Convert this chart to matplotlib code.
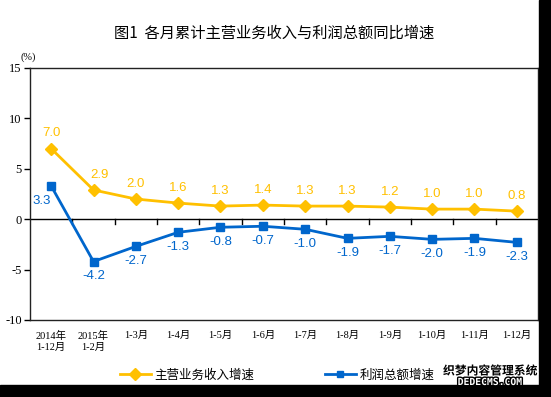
import matplotlib
matplotlib.use("Agg")
import matplotlib.pyplot as plt
from matplotlib.lines import Line2D
from matplotlib.patches import Rectangle
import matplotlib.patheffects as pe

plt.rcParams['font.family'] = ['Noto Sans CJK SC', 'DejaVu Sans']

categories = ["2014年\n1-12月", "2015年\n1-2月", "1-3月", "1-4月", "1-5月", "1-6月",
              "1-7月", "1-8月", "1-9月", "1-10月", "1-11月", "1-12月"]
revenue = [7.0, 2.9, 2.0, 1.6, 1.3, 1.4, 1.3, 1.3, 1.2, 1.0, 1.0, 0.8]
profit = [3.3, -4.2, -2.7, -1.3, -0.8, -0.7, -1.0, -1.9, -1.7, -2.0, -1.9, -2.3]
yticks = [15, 10, 5, 0, -5, -10]
title = "图1  各月累计主营业务收入与利润总额同比增速"
name_rev = "主营业务收入增速"
name_pro = "利润总额增速"

GOLD = "#FFC000"
BLUE = "#0066CC"

W, H = 551, 397
fig = plt.figure(figsize=(W / 100, H / 100), dpi=100)
ax = fig.add_axes([30 / W, (H - 320) / H, (538 - 30) / W, (320 - 68) / H])

x = list(range(len(categories)))
ax.plot(x, revenue, color=GOLD, lw=2, marker='D', ms=6.5, mec=GOLD, mfc=GOLD, zorder=3)
ax.plot(x, profit, color=BLUE, lw=2, marker='s', ms=5.5, mec=BLUE, mfc=BLUE, zorder=3)

ax.set_xlim(-0.5, len(categories) - 0.5)
ax.set_ylim(min(yticks), max(yticks))
ax.set_yticks(yticks)
ax.set_yticklabels([str(v) for v in yticks], family='Liberation Serif', fontsize=9)
ax.tick_params(axis='y', direction='out', length=4, width=1, pad=2)
ax.set_xticks(x)
ax.set_xticklabels(categories, family=['Liberation Serif', 'Noto Sans CJK SC'],
                   fontsize=7.5, linespacing=1.2, va='top')
ax.tick_params(axis='x', length=0, pad=8)
for s in ax.spines.values():
    s.set_linewidth(1)
    s.set_color('#222222')

# zero line and boundary ticks
ax.axhline(0, color='black', lw=1, zorder=2)
for b in range(1, len(categories)):
    ax.plot([b - 0.5, b - 0.5], [0, -0.45], color='black', lw=1, zorder=2)

# data labels
for i, v in enumerate(revenue):
    dx = 4 if i == 1 else 0
    ax.annotate(f"{v:.1f}", (i, v), xytext=(dx, 11), textcoords='offset points',
                ha='center', va='center', color=GOLD, fontsize=9.5, family='Liberation Sans')
for i, v in enumerate(profit):
    dx = -7 if i == 0 else 0
    ax.annotate(f"{v:.1f}", (i, v), xytext=(dx, -10.5), textcoords='offset points',
                ha='center', va='center', color=BLUE, fontsize=9.5, family='Liberation Sans')

fig.text(28 / W, 1 - 57 / H, "(%)", ha='center', va='center', fontsize=7.5,
         family=['Liberation Serif', 'Noto Sans CJK SC'])
fig.text(274.5 / W, 1 - 33.5 / H, title, ha='center', va='center', fontsize=11)

handles = [Line2D([], [], color=GOLD, lw=2, marker='D', ms=6, mfc=GOLD, mec=GOLD),
           Line2D([], [], color=BLUE, lw=2, marker='s', ms=5, mfc=BLUE, mec=BLUE)]
fig.legend(handles, [name_rev, name_pro], loc='center', bbox_to_anchor=(277 / W, 1 - 375 / H),
           ncol=2, frameon=False, fontsize=9, handlelength=2.5, handletextpad=0.3,
           columnspacing=5.6)

# black border strips
fig.add_artist(Rectangle((539 / W, 0), 12 / W, 1, transform=fig.transFigure,
                         color='black', zorder=5))
fig.add_artist(Rectangle((0, 0), 1, 12 / H, transform=fig.transFigure,
                         color='black', zorder=5))

# watermark
t1 = fig.text(490 / W, 1 - 371 / H, "织梦内容管理系统", ha='center', va='center',
              fontsize=8.5, fontweight='bold', color='black', zorder=6)
t1.set_path_effects([pe.withStroke(linewidth=2, foreground='white')])
t2 = fig.text(490 / W, 1 - 382 / H, "DEDECMS.COM", ha='center', va='center',
              fontsize=7, fontweight='bold', color='white', zorder=6, family='DejaVu Sans Mono')
t2.set_path_effects([pe.withStroke(linewidth=2, foreground='black')])

fig.savefig("out.png", dpi=100)
